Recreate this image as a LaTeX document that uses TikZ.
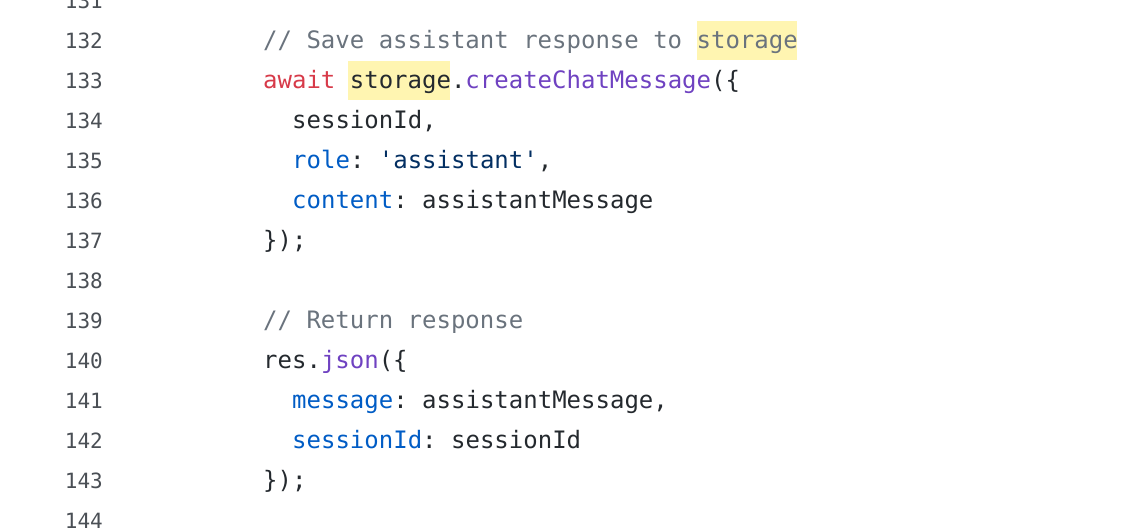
\documentclass[tikz,border=0pt]{standalone}
\usepackage{fontspec}
\setmonofont{DejaVu Sans Mono}
\definecolor{cmt}{HTML}{6A737D}
\definecolor{kw}{HTML}{D73A49}
\definecolor{fn}{HTML}{6F42C1}
\definecolor{prop}{HTML}{005CC5}
\definecolor{str}{HTML}{032F62}
\definecolor{txt}{HTML}{24292E}
\definecolor{lnum}{HTML}{4A4F55}
\definecolor{hl}{HTML}{FFF5B1}
\tikzset{code/.style={anchor=base west,inner sep=0pt,font=\ttfamily\fontsize{24}{24}\selectfont,text=txt},
lno/.style={anchor=base east,inner sep=0pt,font=\ttfamily\fontsize{21}{21}\selectfont,text=lnum},
hlbox/.style={fill=hl,draw=none}}
\begin{document}
\begin{tikzpicture}[x=1pt,y=-1pt]
\useasboundingbox (0,0) rectangle (1134,528);
\clip (0,0) rectangle (1134,528);
\fill[hlbox] (697,21) rectangle (797,60);
\fill[hlbox] (348,61) rectangle (450,100);
\foreach \n [count=\i from 0] in {131,...,144}
  \node[lno] (l\n) at (103,{\i*40+8}) {\n};
\node[code] (c132) at (263,48) {\textcolor{cmt}{// Save assistant response to storage}};
\node[code] (c133) at (263,88) {\textcolor{kw}{await} storage.\textcolor{fn}{createChatMessage}(\{};
\node[code] (c134) at (292,128) {sessionId,};
\node[code] (c135) at (292,168) {\textcolor{prop}{role}: \textcolor{str}{'assistant'},};
\node[code] (c136) at (292,208) {\textcolor{prop}{content}: assistantMessage};
\node[code] (c137) at (263,248) {\});};
\node[code] (c139) at (263,328) {\textcolor{cmt}{// Return response}};
\node[code] (c140) at (263,368) {res.\textcolor{fn}{json}(\{};
\node[code] (c141) at (292,408) {\textcolor{prop}{message}: assistantMessage,};
\node[code] (c142) at (292,448) {\textcolor{prop}{sessionId}: sessionId};
\node[code] (c143) at (263,488) {\});};
\end{tikzpicture}
\end{document}
